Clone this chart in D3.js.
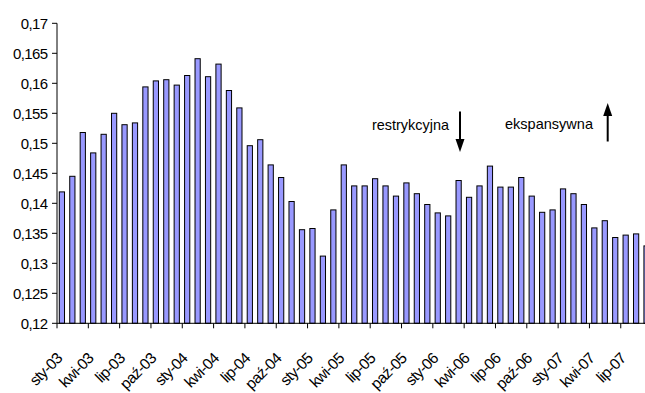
<!DOCTYPE html>
<html>
<head>
<meta charset="utf-8">
<script src="https://cdn.jsdelivr.net/npm/d3@7"></script>
<style>
  html, body { margin: 0; padding: 0; background: #fff; }
  svg { display: block; }
  text { font-family: "Liberation Sans", Arial, sans-serif; fill: #000; }
</style>
</head>
<body>
<svg id="chart" width="645" height="393"></svg>
<script>
// ---- data ----
const monthAbbr = ["sty","lut","mar","kwi","maj","cze","lip","sie","wrz","paź","lis","gru"];
const years = ["03","04","05","06","07"];
const values = [
  0.1419, 0.1445, 0.1518, 0.1484, 0.1515, 0.1550, 0.1531, 0.1534, 0.1594, 0.1604, 0.1606, 0.1597,
  0.1613, 0.1641, 0.1611, 0.1632, 0.1588, 0.1559, 0.1496, 0.1506, 0.1464, 0.1443, 0.1403, 0.1356,
  0.1358, 0.1312, 0.1389, 0.1464, 0.1429, 0.1429, 0.1441, 0.1429, 0.1412, 0.1434, 0.1416, 0.1398,
  0.1384, 0.1379, 0.1438, 0.1410, 0.1429, 0.1462, 0.1427, 0.1427, 0.1443, 0.1412, 0.1385, 0.1389,
  0.1424, 0.1416, 0.1398, 0.1359, 0.1371, 0.1343, 0.1347, 0.1349, 0.1329
];
const categories = [];
years.forEach(yy => monthAbbr.forEach(m => categories.push(m + "-" + yy)));
categories.length = values.length;
const yTicks = [0.12, 0.125, 0.13, 0.135, 0.14, 0.145, 0.15, 0.155, 0.16, 0.165, 0.17];
const annotations = [
  { label: "restrykcyjna", dir: "down" },
  { label: "ekspansywna", dir: "up" }
];

// ---- layout ----
const svg = d3.select("#chart");
const plotLeft = 57, plotBottom = 323.3, plotTop = 23.3;
const step = 10.44;
const x = d3.scaleBand().domain(categories).range([plotLeft, plotLeft + step * categories.length]).padding(0);
const y = d3.scaleLinear().domain([0.12, 0.17]).range([plotBottom, plotTop]);
const fmt = d3.formatLocale({decimal: ",", thousands: " ", grouping: [3], currency: ["", ""]}).format("~g");

// bars
svg.append("g").selectAll("rect").data(values).join("rect")
  .attr("x", (d, i) => x(categories[i]) + x.bandwidth() * 0.22)
  .attr("y", d => y(d))
  .attr("width", x.bandwidth() * 0.5)
  .attr("height", d => plotBottom - y(d))
  .attr("fill", "#9999ff")
  .attr("stroke", "#000")
  .attr("stroke-width", 1);

// y axis
const yAxis = svg.append("g");
yAxis.append("line").attr("x1", plotLeft).attr("x2", plotLeft).attr("y1", plotTop).attr("y2", plotBottom)
  .attr("stroke", "#000").attr("stroke-width", 1);
yAxis.selectAll("line.t").data(yTicks).join("line").attr("class", "t")
  .attr("x1", plotLeft - 5).attr("x2", plotLeft).attr("y1", d => y(d)).attr("y2", d => y(d))
  .attr("stroke", "#000");
yAxis.selectAll("text").data(yTicks).join("text")
  .attr("x", 47.5).attr("y", d => y(d)).attr("dy", "0.36em")
  .attr("text-anchor", "end")
  .style("font-size", "15px").style("letter-spacing", "-0.6px")
  .text(d => fmt(d));

// x axis
const xAxis = svg.append("g");
xAxis.append("line").attr("x1", plotLeft).attr("x2", 645).attr("y1", plotBottom).attr("y2", plotBottom)
  .attr("stroke", "#000");
const tickCats = categories.filter((c, i) => i % 3 === 0);
xAxis.selectAll("line.t").data(tickCats).join("line").attr("class", "t")
  .attr("x1", d => x(d)).attr("x2", d => x(d)).attr("y1", plotBottom).attr("y2", plotBottom + 5)
  .attr("stroke", "#000");
xAxis.selectAll("text").data(tickCats).join("text")
  .attr("transform", d => `translate(${x(d) + x.bandwidth() / 2 + 1},${plotBottom + 36}) rotate(-45)`)
  .attr("text-anchor", "end")
  .style("font-size", "15.5px").style("letter-spacing", "-0.6px")
  .text(d => d);

// annotations
const ann = svg.append("g");
const annPos = [
  { tx: 372, ty: 130, w: 77, ax: 460, y1: 111.5, y2: 152 },
  { tx: 505, ty: 129, w: 88, ax: 607.7, y1: 141.5, y2: 103 }
];
annotations.forEach((a, i) => {
  const p = annPos[i];
  ann.append("text").attr("x", p.tx).attr("y", p.ty)
    .attr("textLength", p.w).attr("lengthAdjust", "spacingAndGlyphs")
    .style("font-size", "15px").text(a.label);
  const headLen = 13, headW = 4.5;
  const sgn = a.dir === "down" ? 1 : -1;
  ann.append("line").attr("x1", p.ax).attr("x2", p.ax)
    .attr("y1", p.y1).attr("y2", p.y2 - sgn * headLen + sgn * 1)
    .attr("stroke", "#000").attr("stroke-width", 2);
  ann.append("path")
    .attr("d", `M${p.ax - headW},${p.y2 - sgn * headLen} L${p.ax + headW},${p.y2 - sgn * headLen} L${p.ax},${p.y2} Z`)
    .attr("fill", "#000");
});
</script>
</body>
</html>
